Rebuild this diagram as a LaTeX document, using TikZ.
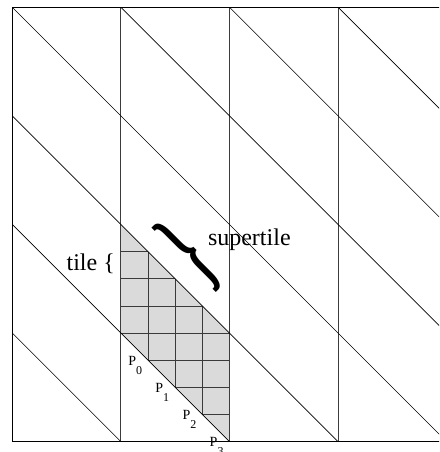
\documentclass[tikz,border=0pt]{standalone}
\usepackage{fontspec}
\setmainfont{Liberation Serif}
\usetikzlibrary{positioning}
\definecolor{stink}{HTML}{000000}
\definecolor{stedge}{HTML}{3C3C3C}
\definecolor{stfill}{HTML}{DADADA}
\definecolor{stgrid}{HTML}{3A3A3A}
\tikzset{
  stframe/.style={draw=stink, line width=0.9pt},
  stcol/.style={draw=stedge, line width=0.9pt},
  stdiag/.style={draw=stink, line width=0.65pt},
  sttile/.style={fill=stfill, draw=none},
  stgridline/.style={draw=stgrid, line width=0.7pt},
  stlbl/.style={font=\fontsize{24}{28}\selectfont, inner sep=0pt, anchor=base west},
  stpt/.style={font=\fontsize{14}{16}\selectfont, inner sep=0pt, anchor=base west,
    xshift=-20pt, yshift=-5pt},
}
\newcommand{\stsub}[1]{P\raisebox{-9pt}{\fontsize{12}{12}\selectfont #1}}

\begin{document}
\begin{tikzpicture}[x=108.6pt, y=108.6pt]
  \useasboundingbox (-0.1133,-0.0948) rectangle (3.929,4.067);
  \clip (-0.1133,-0.0948) rectangle (3.929,4.067);
  \fill[sttile] (1,2) -- (2,1) -- (2,0) -- (1,1) -- cycle;
  \begin{scope}
    \clip (1,2) -- (2,1) -- (2,0) -- (1,1) -- cycle;
    \draw[stgridline] (1,0) grid[step=0.25] (2,2);
  \end{scope}
  \foreach \c in {1,2,3}
    \draw[stcol] (\c,0) -- (\c,4);
  \foreach \k in {1,...,7}
    \draw[stdiag] ({max(0,\k-4)},{min(\k,4)}) -- ({min(\k,4)},{max(0,\k-4)});
  \draw[stframe] (0,0) rectangle (4,4);
  \node[rotate=45, inner sep=0pt] (brace) at (1.636,1.719)
    {\fontsize{50}{50}\selectfont\bfseries\scalebox{1}[2.2]{\}}};
  \node[stlbl] (tile) at (0.498,1.572) {tile \{};
  \node[stlbl] (super) at (1.800,1.811) {supertile};
  \foreach \j in {0,...,3} {
    \coordinate (d\j) at ({1.25+0.25*\j},{0.75-0.25*\j});
    \node[stpt] (p\j) at (d\j) {\stsub{\j}};
  }
\end{tikzpicture}
\end{document}
